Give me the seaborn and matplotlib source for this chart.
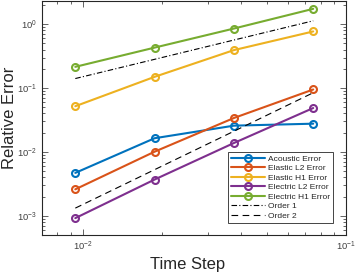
"""Convergence plot: relative error against time step (log-log)."""

import matplotlib

matplotlib.use("Agg")
import matplotlib.pyplot as plt
import pandas as pd
import seaborn as sns
from matplotlib.ticker import LogLocator, NullFormatter

time_steps = [0.009375, 0.01875, 0.0375, 0.075]

acoustic_err = [0.0047, 0.0164, 0.0258, 0.0277]
elastic_l2_err = [0.0026, 0.0101, 0.034, 0.095]
elastic_h1_err = [0.052, 0.150, 0.393, 0.77]
electric_l2_err = [0.00092, 0.0037, 0.0138, 0.0487]
electric_h1_err = [0.215, 0.43, 0.855, 1.74]

order1 = [0.141, 0.282, 0.565, 1.13]
order2 = [0.00132, 0.00528, 0.0211, 0.0845]

series_names = [
    "Acoustic Error",
    "Elastic L2 Error",
    "Elastic H1 Error",
    "Electric L2 Error",
    "Electric H1 Error",
]
series_values = [acoustic_err, elastic_l2_err, elastic_h1_err, electric_l2_err, electric_h1_err]
colors = ["#0072BD", "#D95319", "#EDB120", "#7E2F8E", "#77AC30"]

rows = []
for name, vals in zip(series_names, series_values):
    for dt, err in zip(time_steps, vals):
        rows.append({"dt": dt, "err": err, "series": name})
df = pd.DataFrame(rows)

sns.set_style("ticks")
plt.rcParams["font.family"] = ["Liberation Sans", "DejaVu Sans"]
plt.rcParams["mathtext.fontset"] = "custom"
plt.rcParams["mathtext.rm"] = "Liberation Sans"
plt.rcParams["mathtext.it"] = "Liberation Sans"

fig = plt.figure(figsize=(3.55, 2.73), dpi=100)
ax = fig.add_axes([0.118, 0.139, 0.857, 0.857])

sns.lineplot(
    data=df,
    x="dt",
    y="err",
    hue="series",
    hue_order=series_names,
    palette=colors,
    marker="o",
    markersize=5,
    markerfacecolor="none",
    markeredgewidth=1.5,
    linewidth=1.5,
    ax=ax,
)
# seaborn sets edge colors per line; make marker edges match each line
for line in ax.get_lines():
    line.set_markeredgecolor(line.get_color())

sns.lineplot(x=time_steps, y=order1, color="black", linestyle=(0, (5, 2, 1, 2)),
             linewidth=0.8, ax=ax, label="Order 1")
sns.lineplot(x=time_steps, y=order2, color="black", linestyle=(0, (6, 4)), linewidth=0.8,
             ax=ax, label="Order 2")

ax.set_xscale("log")
ax.set_yscale("log")
ax.set_xlim(0.007, 0.1)
ax.set_ylim(5e-4, 2.3)

grey = "#262626"
for spine in ax.spines.values():
    spine.set_visible(True)
    spine.set_color(grey)
    spine.set_linewidth(0.8)
ax.tick_params(which="both", direction="in", top=True, right=True, colors=grey,
               width=0.5)
ax.tick_params(which="major", length=4, labelsize=6.8, labelcolor="#404040")
ax.tick_params(which="minor", length=2)
ax.yaxis.set_minor_locator(LogLocator(base=10, subs=range(2, 10)))
ax.yaxis.set_minor_formatter(NullFormatter())
ax.xaxis.set_minor_formatter(NullFormatter())

ax.set_xlabel("Time Step", fontsize=12, color=grey)
ax.set_ylabel("Relative Error", fontsize=12, color=grey)
ax.yaxis.set_label_coords(-0.082, 0.5)
ax.xaxis.set_label_coords(0.48, -0.095)

leg = ax.legend(loc="upper right", bbox_to_anchor=(0.957, 0.355), borderaxespad=0,
                fontsize=6, frameon=True, fancybox=False, edgecolor=grey, framealpha=1,
                handlelength=4, borderpad=0.35, labelspacing=0.2, handletextpad=0.4)
leg.get_frame().set_linewidth(0.6)

fig.savefig("out.png", dpi=100)
